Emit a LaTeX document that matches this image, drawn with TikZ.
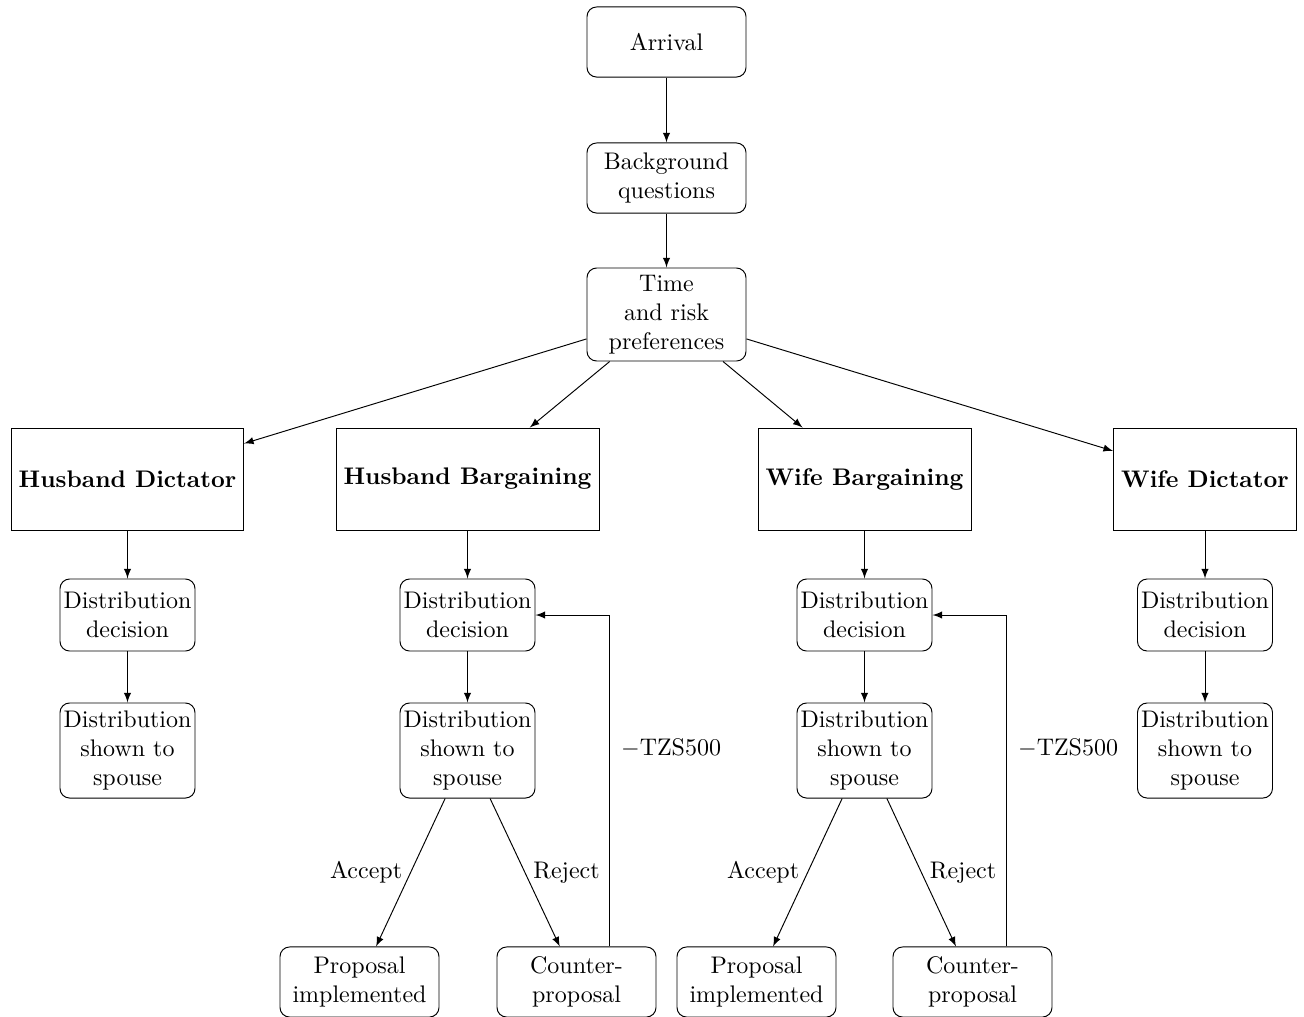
\documentclass[tikz,border=0pt]{standalone}
\usetikzlibrary{calc}
\begin{document}
\begin{tikzpicture}[x=0.41667pt,y=-0.41667pt,
  rbox/.style={draw,rounded corners=4pt,align=center,inner sep=1pt},
  small/.style={rbox,minimum width=56.25pt,minimum height=30pt},
  tall/.style={rbox,minimum width=56.25pt,minimum height=39.6pt},
  wide/.style={rbox,minimum width=66.25pt,minimum height=29.2pt},
  treat/.style={draw,font=\bfseries,minimum height=42.5pt,inner sep=1pt},
  arr/.style={-latex}]
\useasboundingbox (0,0) rectangle (1304,1016);
\node[wide] (arr) at (666.5,42) {Arrival};
\node[wide] (bg) at (666.5,178) {Background\\questions};
\node[wide,minimum height=38.75pt] (tr) at (666.5,314.5) {Time\\and risk\\preferences};
\node[treat,minimum width=96.7pt] (hd) at (127.5,479) {Husband Dictator};
\node[treat,minimum width=109.6pt] (hb) at (467.5,479) {Husband Bargaining};
\node[treat,minimum width=88.75pt] (wb) at (864.5,479) {Wife Bargaining};
\node[treat,minimum width=76.25pt] (wd) at (1205,479) {Wife Dictator};
\node[small] (hdd) at (127.5,615) {Distribution\\decision};
\node[tall] (hds) at (127.5,750.5) {Distribution\\shown to\\spouse};
\node[small] (hbd) at (467.5,615) {Distribution\\decision};
\node[tall] (hbs) at (467.5,750.5) {Distribution\\shown to\\spouse};
\node[wide] (hbp) at (359.5,982) {Proposal\\implemented};
\node[wide] (hbc) at (576.5,982) {Counter-\\proposal};
\node[small] (wbd) at (864.5,615) {Distribution\\decision};
\node[tall] (wbs) at (864.5,750.5) {Distribution\\shown to\\spouse};
\node[wide] (wbp) at (756.5,982) {Proposal\\implemented};
\node[wide] (wbc) at (972.5,982) {Counter-\\proposal};
\node[small] (wdd) at (1205,615) {Distribution\\decision};
\node[tall] (wds) at (1205,750.5) {Distribution\\shown to\\spouse};
\draw[arr] (arr) -- (bg);
\draw[arr] (bg) -- (tr);
\draw[arr] (tr) -- (hd);
\draw[arr] (tr) -- (hb);
\draw[arr] (tr) -- (wb);
\draw[arr] (tr) -- (wd);
\draw[arr] (hd) -- (hdd);
\draw[arr] (hdd) -- (hds);
\draw[arr] (hb) -- (hbd);
\draw[arr] (hbd) -- (hbs);
\draw[arr] (hbs) -- node[midway,left] {Accept} (hbp);
\draw[arr] (hbs) -- node[midway,right] {Reject} (hbc);
\draw[arr] ($(hbc.north)+(32.5,0)$) |- node[pos=0.3,right,xshift=1.5pt] {$-$TZS500} (hbd.east);
\draw[arr] (wb) -- (wbd);
\draw[arr] (wbd) -- (wbs);
\draw[arr] (wbs) -- node[midway,left] {Accept} (wbp);
\draw[arr] (wbs) -- node[midway,right] {Reject} (wbc);
\draw[arr] ($(wbc.north)+(33.5,0)$) |- node[pos=0.3,right,xshift=1.5pt] {$-$TZS500} (wbd.east);
\draw[arr] (wd) -- (wdd);
\draw[arr] (wdd) -- (wds);
\end{tikzpicture}
\end{document}
